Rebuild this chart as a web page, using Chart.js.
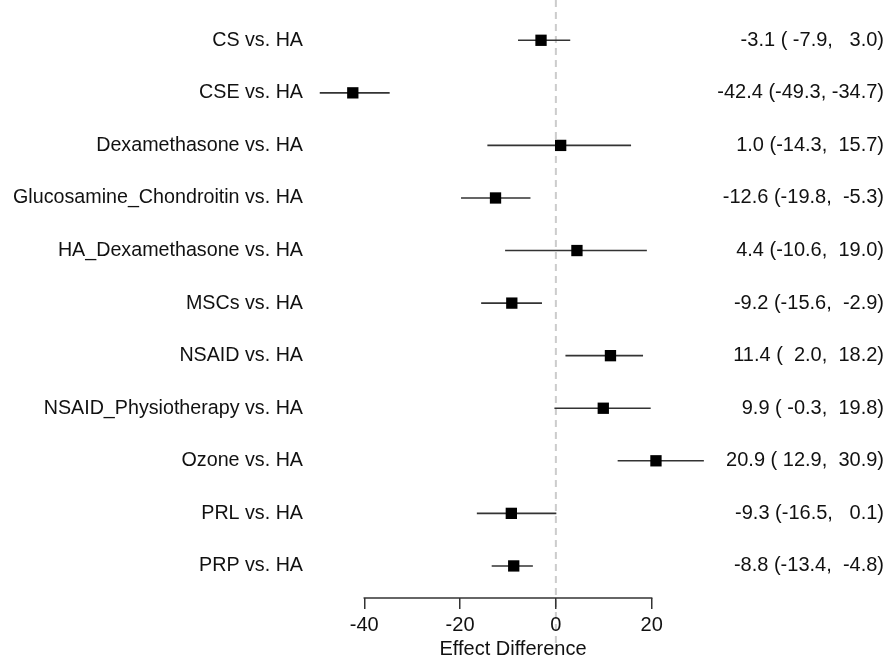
<!DOCTYPE html>
<html>
<head>
<meta charset="utf-8">
<script src="https://cdn.jsdelivr.net/npm/chart.js@4/dist/chart.umd.min.js"></script>
<style>
  body { margin: 0; background: #fff; }
</style>
</head>
<body>
<canvas id="forest" width="888" height="658"></canvas>
<script>
// Comparisons vs. HA ------------------------------------------------------------
const comparisons = [
  "CS", "CSE", "Dexamethasone", "Glucosamine_Chondroitin", "HA_Dexamethasone",
  "MSCs", "NSAID", "NSAID_Physiotherapy", "Ozone", "PRL", "PRP",
];
const estimate = [-3.1, -42.4, 1.0, -12.6, 4.4, -9.2, 11.4, 9.9, 20.9, -9.3, -8.8];
const lower = [-7.9, -49.3, -14.3, -19.8, -10.6, -15.6, 2.0, -0.3, 12.9, -16.5, -13.4];
const upper = [3.0, -34.7, 15.7, -5.3, 19.0, -2.9, 18.2, 19.8, 30.9, 0.1, -4.8];
const xTicks = [-40, -20, 0, 20];

const FONT = "'Liberation Sans', Arial, Helvetica, sans-serif";
const TEXT = "#111";

const pad5 = (v) => v.toFixed(1).padStart(5, " ");
const ciText = estimate.map(
  (e, i) => e.toFixed(1) + " (" + pad5(lower[i]) + ", " + pad5(upper[i]) + ")"
);

const points = estimate.map((e, i) => ({ x: e, y: i }));
const whiskers = [];
comparisons.forEach((c, i) => {
  whiskers.push({ x: lower[i], y: i }, { x: upper[i], y: i }, { x: null, y: null });
});

// zero line + short axis line -----------------------------------------------------
const forestExtras = {
  id: "forestExtras",
  beforeDraw(chart) {
    const ctx = chart.ctx;
    const x0 = chart.scales.x.getPixelForValue(0);
    ctx.save();
    ctx.strokeStyle = "#cccccc";
    ctx.lineWidth = 2;
    ctx.setLineDash([7, 5]);
    ctx.beginPath();
    ctx.moveTo(x0, 0);
    ctx.lineTo(x0, chart.height);
    ctx.stroke();
    ctx.restore();
  },
  afterDraw(chart) {
    const ctx = chart.ctx;
    const sx = chart.scales.x;
    const y = chart.chartArea.bottom;
    ctx.save();
    ctx.strokeStyle = "#333333";
    ctx.lineWidth = 1.5;
    ctx.beginPath();
    ctx.moveTo(sx.getPixelForValue(xTicks[0]) - 0.75, y);
    ctx.lineTo(sx.getPixelForValue(xTicks[xTicks.length - 1]) + 0.75, y);
    ctx.stroke();
    ctx.restore();
  },
};

const rowTicks = (scale) => {
  scale.ticks = comparisons.map((c, i) => ({ value: i }));
};
const fixWidth = (w) => (scale) => {
  scale.width = w;
  scale.paddingTop = 0;
  scale.paddingBottom = 0;
};

new Chart(document.getElementById("forest"), {
  type: "scatter",
  data: {
    datasets: [
      {
        label: "Estimate",
        data: points,
        pointStyle: "rect",
        pointRadius: 8,
        pointBorderWidth: 0,
        backgroundColor: "#000",
        borderColor: "#000",
        showLine: false,
      },
      {
        label: "95% CI",
        data: whiskers,
        showLine: true,
        spanGaps: false,
        borderColor: "#333",
        borderWidth: 1.6,
        pointRadius: 0,
      },
    ],
  },
  options: {
    responsive: false,
    animation: false,
    layout: { padding: { top: 14, left: 0, right: 4, bottom: 0 } },
    scales: {
      x: {
        type: "linear",
        min: -50.5,
        max: 32.6,
        afterBuildTicks: (scale) => {
          scale.ticks = xTicks.map((v) => ({ value: v }));
        },
        afterFit: (scale) => {
          scale.height = 60;
        },
        border: { display: false },
        grid: {
          drawOnChartArea: false,
          drawTicks: true,
          tickLength: 11,
          color: "#333",
          lineWidth: 1.5,
        },
        ticks: {
          padding: 4,
          color: TEXT,
          font: { family: FONT, size: 20 },
          maxRotation: 0,
        },
        title: {
          display: true,
          text: "Effect Difference",
          color: TEXT,
          font: { family: FONT, size: 20, lineHeight: 0.85 },
          padding: { top: 0, bottom: 0 },
        },
      },
      y: {
        type: "linear",
        position: "left",
        reverse: true,
        min: -0.5,
        max: 10.61,
        afterBuildTicks: rowTicks,
        afterFit: fixWidth(314),
        border: { display: false },
        grid: { display: false, drawTicks: false },
        ticks: {
          padding: 11,
          color: TEXT,
          font: { family: FONT, size: 19.7 },
          callback: (v) => comparisons[v] + " vs. HA",
        },
      },
      y2: {
        type: "linear",
        position: "right",
        reverse: true,
        min: -0.5,
        max: 10.61,
        afterBuildTicks: rowTicks,
        afterFit: fixWidth(172),
        border: { display: false },
        grid: { display: false, drawTicks: false },
        ticks: {
          padding: 2,
          crossAlign: "far",
          color: TEXT,
          font: { family: FONT, size: 20 },
          callback: (v) => ciText[v],
        },
      },
    },
    plugins: {
      legend: { display: false },
      tooltip: { enabled: false },
    },
  },
  plugins: [forestExtras],
});
</script>
</body>
</html>
